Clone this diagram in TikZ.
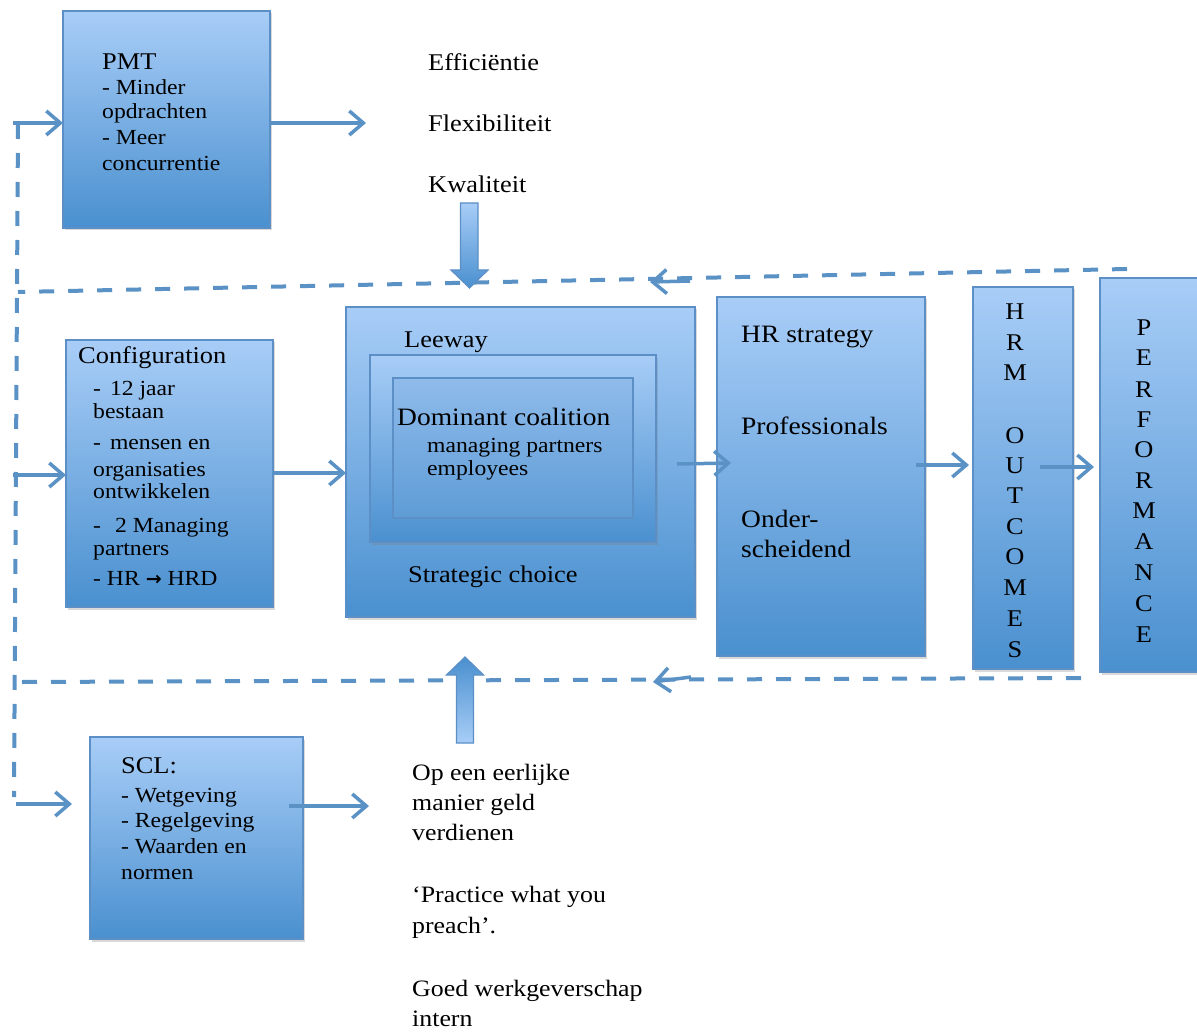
\documentclass[tikz,border=0pt]{standalone}
\usepackage{fontspec}
\setmainfont{Liberation Serif}[FakeStretch=1.1]
\newfontfamily\symfont{DejaVu Sans}
\usetikzlibrary{arrows.meta,shadows}
\definecolor{boxtop}{HTML}{A8CDF7}
\definecolor{boxbot}{HTML}{4A90CF}
\definecolor{boxline}{HTML}{5B8FC6}
\definecolor{arrowblue}{HTML}{5A92C6}
\definecolor{innertop}{HTML}{8FBBEB}
\definecolor{innerbot}{HTML}{5E9CD6}
\tikzset{
  box/.style={draw=boxline, line width=1.3pt, top color=boxtop, bottom color=boxbot,
    inner sep=0pt, outer sep=0pt,
    drop shadow={shadow xshift=1.5pt, shadow yshift=-2.5pt, opacity=0.3}},
  innerbox/.style={draw=boxline, line width=2pt, top color=innertop, bottom color=innerbot,
    inner sep=0pt, outer sep=0pt},
  arr/.style={draw=arrowblue, line width=3.5pt, -{Straight Barb[length=14pt,width=24pt]}},
  dashline/.style={draw=arrowblue, line width=4pt, dash pattern=on 15pt off 14pt},
  txt/.style={anchor=base west, inner sep=0pt, font=\fontsize{21.5}{26}\selectfont},
  ttl/.style={anchor=base west, inner sep=0pt, font=\fontsize{24}{28}\selectfont},
  bigtxt/.style={anchor=base west, inner sep=0pt, font=\fontsize{25}{29}\selectfont},
  lowtxt/.style={anchor=base west, inner sep=0pt, font=\fontsize{23.5}{28}\selectfont},
  letter/.style={anchor=base, inner sep=0pt, font=\fontsize{24}{28}\selectfont},
  blockarrow/.style={draw=boxline, line width=1.2pt}
}
\begin{document}
\begin{tikzpicture}[x=1pt,y=-1pt]
\useasboundingbox (0,0) rectangle (1197,1032);

% boxes
\node[box, minimum width=207pt, minimum height=217pt] (pmt) at (166.5,119.5) {};
\node[box, minimum width=207pt, minimum height=267pt] (cfg) at (169.5,473.5) {};
\node[box, minimum width=349pt, minimum height=310pt] (leeway) at (520.5,462) {};
\node[box, minimum width=286pt, minimum height=187pt] (mid) at (513,448.5) {};
\node[innerbox, minimum width=240pt, minimum height=140pt] (inner) at (513,448) {};
\node[box, minimum width=208pt, minimum height=359pt] (hr) at (821,476.5) {};
\node[box, minimum width=100pt, minimum height=382pt] (hrm) at (1023,478) {};
\node[box, minimum width=115pt, minimum height=394pt] (perf) at (1157.5,475) {};
\node[box, minimum width=213pt, minimum height=202pt] (scl) at (196.5,838) {};

% dashed feedback lines
\coordinate (dTopR) at (1127,269);
\coordinate (dTopL) at (18,292);
\coordinate (dVtop) at (18,124);
\coordinate (dVbot) at (14,797);
\coordinate (dBotL) at (22,682);
\coordinate (dBotR) at (1088,678);
\draw[dashline] (dTopR) -- (dTopL);
\draw[dashline] (dVtop) -- (dVbot);
\draw[dashline] (dBotL) -- (dBotR);
\coordinate (fa1) at (690,281);
\coordinate (fa2) at (650,282);
\coordinate (fb1) at (691,677);
\coordinate (fb2) at (653,682);
\draw[arr] (fa1) -- (fa2);
\draw[arr] (fb1) -- (fb2);

% entry arrows
\coordinate (e1) at (13,123);
\coordinate (e2) at (13,475);
\coordinate (e3) at (16,804);
\draw[arr] (e1) -- (e1 -| pmt.west);
\draw[arr] (e2) -- (e2 -| cfg.west);
\draw[arr] (e3) -- ([xshift=-18pt]e3 -| scl.west);

% outgoing arrows
\coordinate (o1) at (366,123);
\draw[arr] (o1 -| pmt.east) -- (o1);
\coordinate (o2) at (369,806);
\draw[arr] (289,806) -- (o2);
\coordinate (c1) at (0,473);
\draw[arr] (c1 -| cfg.east) -- (c1 -| leeway.west);
\coordinate (l1) at (677,464);
\coordinate (l2) at (731,463);
\draw[arr] (l1) -- (l2);
\coordinate (h1) at (916,465);
\coordinate (h2) at (969,465);
\draw[arr] (h1) -- (h2);
\coordinate (m1) at (1040,467);
\coordinate (m2) at (1094,467);
\draw[arr] (m1) -- (m2);

% block arrows
\shade[top color=boxtop, bottom color=boxbot] (460.5,203) -- (478,203) -- (478,270) -- (488,270) -- (469.5,288) -- (451,270) -- (460.5,270) -- cycle;
\draw[blockarrow] (460.5,203) -- (478,203) -- (478,270) -- (488,270) -- (469.5,288) -- (451,270) -- (460.5,270) -- cycle;
\shade[top color=boxbot, bottom color=boxtop] (456.5,743) -- (473.5,743) -- (473.5,675) -- (483.5,675) -- (465,657) -- (446.5,675) -- (456.5,675) -- cycle;
\draw[blockarrow] (456.5,743) -- (473.5,743) -- (473.5,675) -- (483.5,675) -- (465,657) -- (446.5,675) -- (456.5,675) -- cycle;

% top texts
\node[ttl] (tEff) at (428,71) {Efficiëntie};
\node[ttl] (tFlex) at (428,132) {Flexibiliteit};
\node[ttl] (tKwa) at (428,193) {Kwaliteit};

% PMT
\node[ttl] (pmtT) at (102,70) {PMT};
\node[txt] (pmt1) at (102,95) {- Minder};
\node[txt] (pmt2) at (102,119) {opdrachten};
\node[txt] (pmt3) at (102,145) {- Meer};
\node[txt] (pmt4) at (102,171) {concurrentie};

% Configuration
\node[ttl] (cfgT) at (78,363) {Configuration};
\node[txt] (cfg1) at (93,395) {-\hspace{9pt}12 jaar};
\node[txt] (cfg2) at (93,418) {bestaan};
\node[txt] (cfg3) at (93,449) {-\hspace{9pt}mensen en};
\node[txt] (cfg4) at (93,476) {organisaties};
\node[txt] (cfg5) at (93,498) {ontwikkelen};
\node[txt] (cfg6) at (93,532) {-\hspace{14pt}2 Managing};
\node[txt] (cfg7) at (93,555) {partners};
\node[txt] (cfg8) at (93,585) {- HR {\symfont\bfseries\fontsize{19}{22}\selectfont →} HRD};

% Leeway
\node[ttl] (lwT) at (404,348) {Leeway};
\node[bigtxt] (dcT) at (397,425) {Dominant coalition};
\node[txt] (dc1) at (427,452) {managing partners};
\node[txt] (dc2) at (427,475) {employees};
\node[ttl] (scT) at (408,582) {Strategic choice};

% HR strategy
\node[bigtxt] (hr1) at (741,342) {HR strategy};
\node[bigtxt] (hr2) at (741,434) {Professionals};
\node[bigtxt] (hr3) at (741,527) {Onder-};
\node[bigtxt] (hr4) at (741,557) {scheidend};

% HRM OUTCOMES
\foreach \l/\y in {H/320,R/351,M/381,O/443,U/473,T/503,C/534,O/564,M/595,E/626,S/657}
  \node[letter] (hrm\y) at (1015,\y) {\l};

% PERFORMANCE
\foreach \l/\y in {P/335,E/366,R/397,F/427,O/457,R/488,M/518,A/549,N/580,C/611,E/642}
  \node[letter] (perf\y) at (1144,\y) {\l};

% SCL
\node[ttl] (sclT) at (121,773) {SCL:};
\node[txt] (scl1) at (121,802) {- Wetgeving};
\node[txt] (scl2) at (121,827) {- Regelgeving};
\node[txt] (scl3) at (121,853) {- Waarden en};
\node[txt] (scl4) at (121,879) {normen};

% bottom texts
\node[lowtxt] (b1) at (412,780) {Op een eerlijke};
\node[lowtxt] (b2) at (412,810) {manier geld};
\node[lowtxt] (b3) at (412,840) {verdienen};
\node[lowtxt] (b4) at (412,902) {‘Practice what you};
\node[lowtxt] (b5) at (412,933) {preach’.};
\node[lowtxt] (b6) at (412,996) {Goed werkgeverschap};
\node[lowtxt] (b7) at (412,1026) {intern};
\end{tikzpicture}
\end{document}
